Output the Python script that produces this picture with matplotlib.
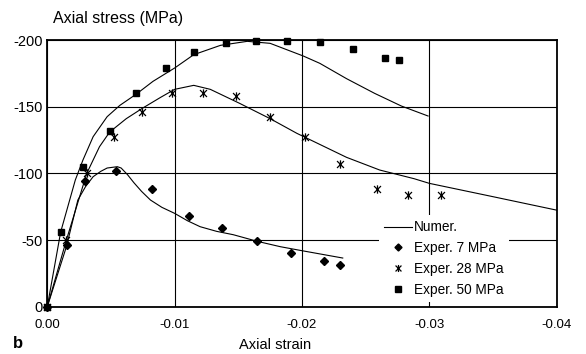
import matplotlib
matplotlib.use("Agg")
import matplotlib.pyplot as plt
from matplotlib.path import Path

plt.rcParams['font.family'] = ['Liberation Sans', 'DejaVu Sans']

# experimental points (strain, stress in MPa)
exp7_strain = [0, -0.00152, -0.0030, -0.0054, -0.0082, -0.0111, -0.0137, -0.0165, -0.0191, -0.0217, -0.0230]
exp7_stress = [0, -46, -94, -102, -88, -68, -59, -49, -40, -34, -31]

exp28_strain = [0, -0.0015, -0.0031, -0.0052, -0.0074, -0.0098, -0.01225, -0.0148, -0.0175, -0.0202, -0.0230, -0.0259, -0.0283, -0.0309]
exp28_stress = [0, -50, -100, -127, -146, -160, -160, -158, -142, -127, -107, -88, -84, -84]

exp50_strain = [0, -0.00105, -0.0028, -0.0049, -0.0070, -0.0093, -0.0115, -0.0140, -0.0164, -0.01885, -0.0214, -0.0240, -0.0265, -0.0276]
exp50_stress = [0, -56, -105, -132, -160, -179, -191, -198, -199, -199, -198.5, -193, -186.5, -185]

# numerical curves
num7_strain = [0, -0.0015, -0.0024, -0.0030, -0.0036, -0.0042, -0.0047, -0.0055, -0.0058, -0.0063, -0.0068,
               -0.0074, -0.0081, -0.0090, -0.0100, -0.0110, -0.0120, -0.0133, -0.0146, -0.0165, -0.0183,
               -0.0200, -0.0232]
num7_stress = [0, -45, -80, -90, -97.5, -101.5, -104, -105, -104, -99, -93,
               -86.5, -80, -74.5, -70, -64.5, -60, -56.5, -54, -49, -45,
               -42, -36.5]

num28_strain = [0, -0.0015, -0.0031, -0.0041, -0.0049, -0.0062, -0.0075, -0.0089, -0.0100, -0.0115,
                -0.0128, -0.0151, -0.0175, -0.0196, -0.0235, -0.0261, -0.0288, -0.0300, -0.0350, -0.0402]
num28_stress = [0, -50, -100, -120, -131, -141, -149, -157, -163, -166,
                -163, -152.5, -141, -130, -112, -102.5, -96, -92.5, -82.5, -72]

num50_strain = [0, -0.00105, -0.0022, -0.0028, -0.0036, -0.0047, -0.0057, -0.0070, -0.0083, -0.0100,
                -0.0115, -0.0136, -0.0157, -0.0175, -0.0201, -0.0214, -0.0235, -0.0257, -0.0278, -0.0299]
num50_stress = [0, -56, -95, -110, -127.5, -142.5, -151, -159.5, -169, -179,
                -189, -196, -199, -197.5, -188, -182.5, -171, -160, -150.5, -143]

xticks = [0, -0.01, -0.02, -0.03, -0.04]
xticklabels = ['0.00', '-0.01', '-0.02', '-0.03', '-0.04']
yticks = [0, -50, -100, -150, -200]

# x with a vertical bar, like the spreadsheet "star" marker
star = Path([(-1, -1), (1, 1), (-1, 1), (1, -1), (0, -1.2), (0, 1.2)],
            [Path.MOVETO, Path.LINETO, Path.MOVETO, Path.LINETO, Path.MOVETO, Path.LINETO])

fig = plt.figure(figsize=(5.86, 3.54), dpi=100)
ax = fig.add_axes([0.0807, 0.1336, 0.8693, 0.7534])

ax.plot(num7_strain, num7_stress, '-', color='black', lw=0.8, label='Numer.')
ax.plot(num28_strain, num28_stress, '-', color='black', lw=0.8)
ax.plot(num50_strain, num50_stress, '-', color='black', lw=0.8)

ax.plot(exp7_strain, exp7_stress, 'D', color='black', ms=4.2, ls='none',
        label='Exper. 7 MPa', clip_on=False, zorder=6)
ax.plot(exp28_strain, exp28_stress, marker=star, color='black', mfc='none', mew=0.9, ms=6,
        ls='none', label='Exper. 28 MPa', clip_on=False, zorder=6)
ax.plot(exp50_strain, exp50_stress, 's', color='black', ms=5, ls='none',
        label='Exper. 50 MPa', clip_on=False, zorder=6)

ax.set_xlim(0, -0.04)
ax.set_ylim(0, -200)
ax.set_xticks(xticks)
ax.set_xticklabels(xticklabels)
ax.set_yticks(yticks)
ax.set_yticklabels([str(v) for v in yticks])
ax.tick_params(axis='both', length=0)
ax.tick_params(axis='y', labelsize=10.5, pad=3)
ax.tick_params(axis='x', labelsize=9.5, pad=9)
ax.grid(True, color='black', lw=0.8)
ax.set_axisbelow(True)
for s in ax.spines.values():
    s.set_linewidth(1.3)
    s.set_zorder(5)

leg = ax.legend(loc='lower left', bbox_to_anchor=(0.651, 0.017), borderaxespad=0,
                frameon=True, fancybox=False, framealpha=1, edgecolor='none',
                fontsize=9.8, handlelength=2.0, handletextpad=0.15, labelspacing=0.5,
                markerscale=0.85)
leg.set_zorder(7)

fig.text(53 / 586, 1 - 18 / 354, 'Axial stress (MPa)', fontsize=11.5, va='center', ha='left')
fig.text(275 / 586, 1 - 345 / 354, 'Axial strain', fontsize=10.5, va='center', ha='center')
fig.text(13 / 586, 1 - 344 / 354, 'b', fontsize=12, weight='bold', va='center', ha='left')

fig.savefig('out.png', dpi=100)
